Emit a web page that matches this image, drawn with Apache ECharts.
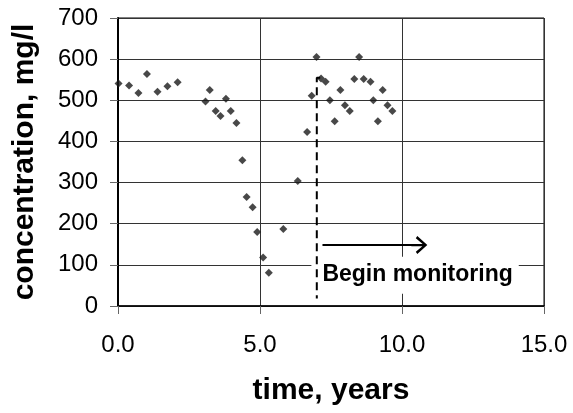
<!DOCTYPE html>
<html>
<head>
<meta charset="utf-8">
<script src="https://cdn.jsdelivr.net/npm/echarts@6/dist/echarts.min.js"></script>
<style>html,body{margin:0;padding:0;background:#fff;}#c{width:573px;height:413px;}</style>
</head>
<body>
<div id="c"></div>
<script>
// time (years)
var timeYears = [0.02,0.39,0.72,1.02,1.39,1.74,2.10,3.08,3.23,3.44,3.61,3.80,3.97,4.17,4.38,4.53,4.74,4.90,5.11,5.31,5.82,6.33,6.66,6.82,6.99,7.15,7.31,7.46,7.63,7.83,7.99,8.16,8.32,8.49,8.65,8.89,8.99,9.15,9.32,9.49,9.66];
// concentration (mg/l)
var concentration = [541,536,518,564,521,534,544,497,525,474,462,504,474,445,354,265,240,180,118,81,187,304,423,511,605,553,545,500,449,525,488,474,552,605,552,545,500,449,525,488,474];
var xTicks = [0,5,10,15];
var yTicks = [0,100,200,300,400,500,600,700];
// annotation
var monitorStartX = [7.12, 7.0, 7.0];
var monitorStartY = [555, 555, 18];
var arrowFrom = [7.2, 148];
var arrowTo = [10.61, 148];
var labelPos = [10.46, 75];
var labelText = 'Begin monitoring';

var pts = timeYears.map(function(t,i){return [t, concentration[i]];});
var dashPts = monitorStartX.map(function(x,i){return [x, monitorStartY[i]];});

var chart = echarts.init(document.getElementById('c'), null, {renderer:'canvas'});
var FONT = '"Liberation Sans", Arial, sans-serif';
chart.setOption({
  animation:false,
  backgroundColor:'#fff',
  grid:{left:118,right:29,top:18,bottom:107,show:true,borderColor:'#000',borderWidth:1,backgroundColor:'transparent'},
  xAxis:{
    type:'value',min:xTicks[0],max:xTicks[xTicks.length-1],interval:5,
    name:'time, years',nameLocation:'middle',nameGap:70,
    nameTextStyle:{fontFamily:FONT,fontWeight:'bold',fontSize:30,color:'#000'},
    axisLine:{show:true,onZero:false,lineStyle:{color:'#000',width:1.5}},
    axisTick:{show:true,length:8,lineStyle:{color:'#666'}},
    axisLabel:{fontFamily:FONT,fontSize:24,color:'#000',margin:27,formatter:function(v){return v.toFixed(1);}},
    splitLine:{show:true,lineStyle:{color:'#333',width:1}}
  },
  yAxis:{
    type:'value',min:yTicks[0],max:yTicks[yTicks.length-1],interval:100,
    name:'concentration, mg/l',nameLocation:'middle',nameGap:78,
    nameTextStyle:{fontFamily:FONT,fontWeight:'bold',fontSize:30,color:'#000'},
    axisLine:{show:true,onZero:false,lineStyle:{color:'#000',width:2}},
    axisTick:{show:true,length:8,lineStyle:{color:'#666'}},
    axisLabel:{fontFamily:FONT,fontSize:24,color:'#000',margin:20},
    splitLine:{show:true,lineStyle:{color:'#333',width:1}}
  },
  series:[
    {
      type:'scatter',data:pts,symbol:'diamond',symbolSize:8,
      itemStyle:{color:'#1a1a1a'},z:3,
      markPoint:{
        symbol:'rect',symbolSize:1,silent:true,
        itemStyle:{color:'rgba(0,0,0,0)'},
        label:{show:true,position:'inside',formatter:labelText,fontFamily:FONT,fontWeight:'bold',fontSize:23,color:'#000',
          backgroundColor:'#fff',padding:[7,6,7,11]},
        data:[{coord:labelPos}]
      },
      markLine:{
        silent:true,
        symbol:['none','path://M0,10 L8,0 L16,10 L14,11.5 L8,3.5 L2,11.5 Z M7,2 L9,2 L9,16 L7,16 Z'],
        symbolSize:[18,16],
        lineStyle:{color:'#000',width:2,type:'solid'},
        label:{show:false},
        data:[[{coord:arrowFrom},{coord:arrowTo}]]
      }
    },
    {
      type:'line',data:dashPts,symbol:'none',z:5,
      lineStyle:{color:'#000',width:2,type:[8,5]}
    }
  ]
});
</script>
</body>
</html>
